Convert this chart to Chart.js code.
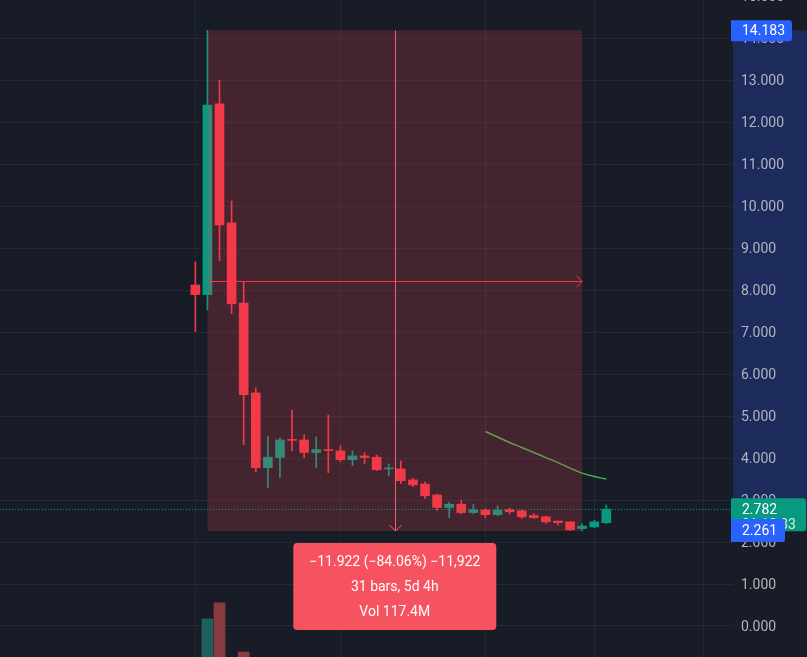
<!DOCTYPE html>
<html>
<head>
<meta charset="utf-8">
<script src="https://cdn.jsdelivr.net/npm/chart.js@4.4.1/dist/chart.umd.min.js"></script>
<style>
  html, body { margin: 0; padding: 0; background: #181c27; }
  #wrap { position: relative; width: 807px; height: 657px; }
</style>
</head>
<body>
<div id="wrap"><canvas id="price-chart"></canvas></div>
<script>
/* ===================================
   DATA
   =================================== */

// bar index 0..34 (one candle per bar)
const bars = Array.from({ length: 35 }, (_, i) => i);

const opens  = [8.12, 7.89, 12.43, 9.60, 7.69, 5.55, 3.77, 4.01, 4.43, 4.43, 4.13, 4.20, 4.17, 3.96, 4.05, 4.02, 3.74, 3.74, 3.48, 3.38, 3.12, 2.82, 2.90, 2.70, 2.76, 2.65, 2.77, 2.74, 2.63, 2.60, 2.50, 2.48, 2.32, 2.36, 2.46];
const highs  = [8.67, 14.183, 13.00, 10.12, 8.19, 5.67, 4.52, 4.48, 5.14, 4.55, 4.50, 5.02, 4.29, 4.17, 4.12, 4.07, 3.86, 3.93, 3.52, 3.43, 3.14, 2.95, 3.00, 2.90, 2.79, 2.86, 2.81, 2.77, 2.67, 2.62, 2.50, 2.48, 2.43, 2.52, 2.88];
const lows   = [7.01, 7.53, 8.70, 7.44, 4.32, 3.67, 3.29, 3.53, 4.17, 4.01, 3.77, 3.65, 3.91, 3.82, 3.86, 3.70, 3.58, 3.39, 3.32, 3.03, 2.75, 2.58, 2.67, 2.67, 2.58, 2.63, 2.67, 2.56, 2.56, 2.44, 2.40, 2.27, 2.261, 2.34, 2.44];
const closes = [7.89, 12.40, 9.55, 7.67, 5.51, 3.77, 4.02, 4.43, 4.42, 4.13, 4.20, 4.18, 3.96, 4.05, 4.01, 3.72, 3.75, 3.46, 3.36, 3.10, 2.82, 2.90, 2.70, 2.77, 2.65, 2.76, 2.72, 2.60, 2.58, 2.48, 2.46, 2.29, 2.38, 2.48, 2.782];

// volume in millions
const volumes = [5, 20.3, 24.3, 10.5, 12, 8.3, 5, 4, 3.5, 2.5, 2, 3, 1.5, 1.2, 1, 1.5, 1, 2, 1.2, 1.5, 2, 1, 1, 0.8, 0.8, 0.7, 0.6, 0.8, 0.6, 0.9, 0.7, 1.2, 0.9, 1.1, 2.5];

// moving average (only the tail is on screen)
const maBars   = [24, 25, 26, 27, 28, 29, 30, 31, 32, 33, 34];
const maValues = [4.63, 4.50, 4.37, 4.25, 4.13, 4.01, 3.89, 3.76, 3.64, 3.56, 3.50];

// price axis ticks and time grid lines
const priceTicks = [0, 1, 2, 3, 4, 5, 6, 7, 8, 9, 10, 11, 12, 13, 14, 15];
const timeGrid = [0, 12, 24, 33, 42];

// measure tool: from bar 1 high to bar 32 low
const measureFrom = { bar: 1, price: 14.183 };
const measureTo = { bar: 32, price: 2.261 };
const measureLines = ["\u221211.922 (\u221284.06%) \u221211,922", "31 bars, 5d 4h", "Vol 117.4M"];

const lastPrice = 2.782;
const countdown = "01:12:33";

/* ===================================
   COLOURS
   =================================== */
const UP = "#089981";
const DOWN = "#f23645";
const UP_VOL = "#1e6060";
const DOWN_VOL = "#8a3b3f";
const GRID = "#242834";
const TEXT = "#b2b5be";

const isUp = i => closes[i] >= opens[i];

/* ===================================
   OVERLAY PLUGINS
   =================================== */

function rightLabel(ctx, x, y, w, h, fill, text, textX) {
  ctx.save();
  ctx.fillStyle = fill;
  ctx.beginPath();
  ctx.roundRect(x, y, w, h, [0, 3, 3, 0]);
  ctx.fill();
  ctx.fillStyle = "#ffffff";
  ctx.font = "14px Roboto, sans-serif";
  ctx.textBaseline = "middle";
  ctx.textAlign = "left";
  ctx.fillText(text, textX, y + h / 2 + 1);
  ctx.restore();
}

const axisHighlight = {
  id: "axisHighlight",
  beforeDraw(chart) {
    const { ctx, scales: { y }, chartArea } = chart;
    const top = y.getPixelForValue(measureFrom.price);
    const bottom = y.getPixelForValue(measureTo.price);
    ctx.save();
    ctx.fillStyle = "#1d2b5c";
    ctx.fillRect(chartArea.right, top, chart.width - chartArea.right, bottom - top);
    ctx.restore();
  },
};

const measureTool = {
  id: "measureTool",
  afterDatasetsDraw(chart) {
    const { ctx, scales: { x, y }, chartArea } = chart;
    const x1 = x.getPixelForValue(measureFrom.bar);
    const x2 = x.getPixelForValue(measureTo.bar);
    const yTop = y.getPixelForValue(measureFrom.price);
    const yBot = y.getPixelForValue(measureTo.price);
    const xMid = Math.round((x1 + x2) / 2) + 0.5;
    const yMid = Math.round((yTop + yBot) / 2) + 0.5;

    ctx.save();
    // shaded range
    ctx.fillStyle = "rgba(242, 70, 82, 0.2)";
    ctx.fillRect(x1, yTop, x2 - x1, yBot - yTop);

    // arrows
    ctx.strokeStyle = DOWN;
    ctx.lineWidth = 1;
    ctx.beginPath();
    ctx.moveTo(x1, yMid);
    ctx.lineTo(x2, yMid);
    ctx.moveTo(x2 - 6, yMid - 6);
    ctx.lineTo(x2, yMid);
    ctx.lineTo(x2 - 6, yMid + 6);
    ctx.stroke();

    ctx.strokeStyle = "#f0606c";
    ctx.beginPath();
    ctx.moveTo(xMid, yTop);
    ctx.lineTo(xMid, yBot);
    ctx.moveTo(xMid - 6, yBot - 6);
    ctx.lineTo(xMid, yBot);
    ctx.lineTo(xMid + 6, yBot - 6);
    ctx.stroke();

    // last price dotted line
    const yLast = Math.round(y.getPixelForValue(lastPrice)) + 0.5;
    ctx.strokeStyle = UP;
    ctx.setLineDash([1, 2]);
    ctx.beginPath();
    ctx.moveTo(chartArea.left, yLast);
    ctx.lineTo(chartArea.right, yLast);
    ctx.stroke();
    ctx.setLineDash([]);

    // info box
    const boxW = 203, boxH = 87;
    const boxX = (x1 + x2) / 2 - boxW / 2;
    const boxY = yBot + 12;
    ctx.fillStyle = "#f7525f";
    ctx.beginPath();
    ctx.roundRect(boxX, boxY, boxW, boxH, 4);
    ctx.fill();
    ctx.fillStyle = "#ffffff";
    ctx.font = "14px Roboto, sans-serif";
    ctx.textAlign = "center";
    ctx.textBaseline = "middle";
    measureLines.forEach((line, i) => {
      ctx.fillText(line, (x1 + x2) / 2, boxY + 19 + i * 25);
    });
    ctx.restore();
  },
  afterDraw(chart) {
    const { ctx, scales: { y }, chartArea } = chart;
    const left = chartArea.right - 2;
    const yHigh = y.getPixelForValue(measureFrom.price);
    const yLow = y.getPixelForValue(measureTo.price);
    const yLast = y.getPixelForValue(lastPrice);

    // last price label with countdown underneath
    ctx.save();
    ctx.fillStyle = UP;
    ctx.beginPath();
    ctx.roundRect(left, yLast - 11, 75, 33, [0, 3, 3, 0]);
    ctx.fill();
    ctx.fillStyle = "#ffffff";
    ctx.font = "14px Roboto, sans-serif";
    ctx.textBaseline = "middle";
    ctx.fillText(lastPrice.toFixed(3), left + 11, yLast + 1);
    ctx.fillStyle = "#d8f0ea";
    ctx.fillText(countdown, left + 11, yLast + 16);
    ctx.restore();

    rightLabel(ctx, left, yHigh - 10, 61, 21, "#2962ff", measureFrom.price.toFixed(3), left + 11);
    rightLabel(ctx, left, yLow - 12, 54, 23, "#2962ff", measureTo.price.toFixed(3), left + 11);
  },
};

/* ===================================
   CHART
   =================================== */

Chart.defaults.font.family = "Roboto, sans-serif";

const ctx = document.getElementById("price-chart").getContext("2d");

const priceChart = new Chart(ctx, {
  type: "bar",
  data: {
    datasets: [
      {
        type: "line",
        label: "MA",
        data: maBars.map((b, i) => ({ x: b, y: maValues[i] })),
        borderColor: "#4caf50",
        borderWidth: 1.5,
        pointRadius: 0,
        tension: 0.4,
        order: 1,
      },
      {
        label: "Body",
        data: bars.map(i => ({ x: i, y: [opens[i], closes[i]] })),
        backgroundColor: bars.map(i => (isUp(i) ? UP : DOWN)),
        barThickness: 9,
        minBarLength: 1,
        grouped: false,
        order: 2,
      },
      {
        label: "Wick",
        data: bars.map(i => ({ x: i, y: [lows[i], highs[i]] })),
        backgroundColor: bars.map(i => (isUp(i) ? UP : DOWN)),
        barThickness: 1,
        grouped: false,
        order: 3,
      },
      {
        label: "Volume",
        yAxisID: "yVol",
        data: bars.map(i => ({ x: i, y: volumes[i] })),
        backgroundColor: bars.map(i => (isUp(i) ? UP_VOL : DOWN_VOL)),
        barThickness: 11,
        grouped: false,
        order: 4,
      },
    ],
  },
  options: {
    responsive: true,
    maintainAspectRatio: false,
    animation: false,
    layout: { padding: 0 },
    plugins: {
      legend: { display: false },
      tooltip: { enabled: false },
    },
    scales: {
      x: {
        type: "linear",
        min: -16.16,
        max: 44.48,
        offset: false,
        afterBuildTicks: scale => { scale.ticks = timeGrid.map(v => ({ value: v })); },
        afterFit: scale => {
          scale.height = 0;
          scale.paddingLeft = 0;
          scale.paddingRight = 0;
        },
        ticks: { display: false },
        grid: { color: GRID, drawTicks: false, offset: false },
        border: { display: false },
      },
      y: {
        position: "right",
        min: -0.7381,
        max: 14.9048,
        afterBuildTicks: scale => { scale.ticks = priceTicks.map(v => ({ value: v })); },
        afterFit: scale => {
          scale.width = 74;
          scale.paddingTop = 0;
          scale.paddingBottom = 0;
        },
        ticks: {
          color: TEXT,
          font: { size: 14 },
          padding: 8,
          labelOffset: 1.5,
          callback: v => v.toFixed(3),
        },
        grid: { color: GRID, drawTicks: false },
        border: { display: false },
      },
      yVol: {
        display: false,
        min: 10.75,
        max: 175,
      },
    },
  },
  plugins: [axisHighlight, measureTool],
});
</script>
</body>
</html>
